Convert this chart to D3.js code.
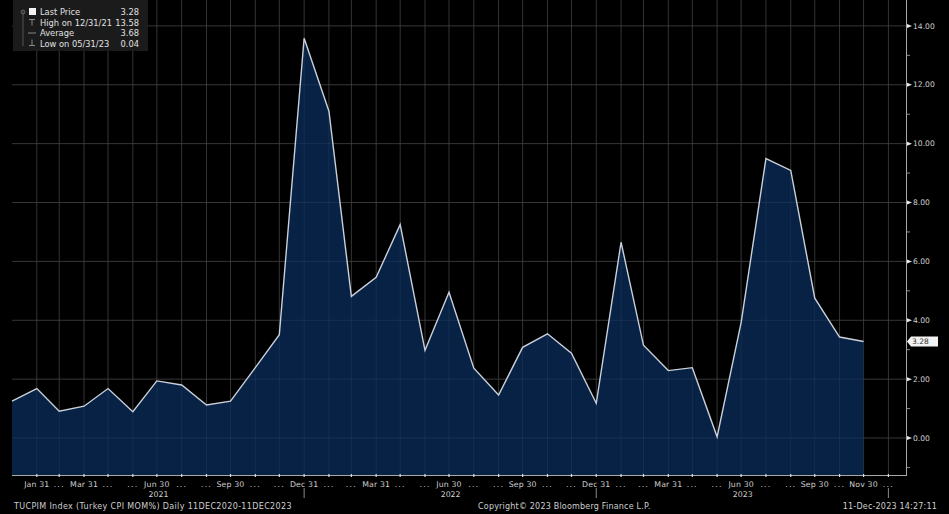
<!DOCTYPE html>
<html>
<head>
<meta charset="utf-8">
<script src="https://cdn.jsdelivr.net/npm/d3@7"></script>
<style>
  html, body { margin: 0; padding: 0; background: #000; }
  svg { display: block; }
  text { font-family: "DejaVu Sans", sans-serif; }
</style>
</head>
<body>
<svg id="chart" width="949" height="514"></svg>
<script>
// ---- data ----
const dates = [
  "2020-12-31",
  "2021-01-31","2021-02-28","2021-03-31","2021-04-30","2021-05-31","2021-06-30",
  "2021-07-31","2021-08-31","2021-09-30","2021-10-31","2021-11-30","2021-12-31",
  "2022-01-31","2022-02-28","2022-03-31","2022-04-30","2022-05-31","2022-06-30",
  "2022-07-31","2022-08-31","2022-09-30","2022-10-31","2022-11-30","2022-12-31",
  "2023-01-31","2023-02-28","2023-03-31","2023-04-30","2023-05-31","2023-06-30",
  "2023-07-31","2023-08-31","2023-09-30","2023-10-31","2023-11-30"
];
const values = [
  1.25,
  1.68, 0.91, 1.08, 1.68, 0.89, 1.94, 1.80, 1.12, 1.25, 2.39, 3.51, 13.58,
  11.10, 4.81, 5.46, 7.25, 2.98, 4.95, 2.37, 1.46, 3.08, 3.54, 2.88, 1.18,
  6.65, 3.15, 2.29, 2.39, 0.04, 3.92, 9.49, 9.09, 4.75, 3.43, 3.28
];
const tickDates = [
  "2021-01-31","2021-02-28","2021-03-31","2021-04-30","2021-05-31","2021-06-30",
  "2021-07-31","2021-08-31","2021-09-30","2021-10-31","2021-11-30","2021-12-31",
  "2022-01-31","2022-02-28","2022-03-31","2022-04-30","2022-05-31","2022-06-30",
  "2022-07-31","2022-08-31","2022-09-30","2022-10-31","2022-11-30","2022-12-31",
  "2023-01-31","2023-02-28","2023-03-31","2023-04-30","2023-05-31","2023-06-30",
  "2023-07-31","2023-08-31","2023-09-30","2023-10-31","2023-11-30","2023-12-31"
];
const tickLabels = [
  "Jan 31","...","Mar 31","...","...","Jun 30","...","...","Sep 30","...","...","Dec 31",
  "...","...","Mar 31","...","...","Jun 30","...","...","Sep 30","...","...","Dec 31",
  "...","...","Mar 31","...","...","Jun 30","...","...","Sep 30","...","Nov 30","..."
];
const years = ["2021","2022","2023"];
const yTicks = [0, 2, 4, 6, 8, 10, 12, 14];
const yMinorTicks = [-1, 1, 3, 5, 7, 9, 11, 13];
const legendLabels = ["Last Price", "High on 12/31/21", "Average", "Low on 05/31/23"];
const legendValues = ["3.28", "13.58", "3.68", "0.04"];
const lastPrice = 3.28;
const footerLeft = "TUCPIM Index (Turkey CPI MOM%)  Daily 11DEC2020-11DEC2023";
const footerMid = "Copyright\u00A9 2023 Bloomberg Finance L.P.";
const footerRight = "11-Dec-2023 14:27:11";

// ---- layout ----
const W = 949, H = 514;
const plotLeft = 12, plotRight = 906, plotTop = 0, plotBottom = 475;
const parse = d3.timeParse("%Y-%m-%d");

const svg = d3.select("#chart");
svg.append("rect").attr("width", W).attr("height", H).attr("fill", "#000");

const x = d3.scaleTime()
  .domain([parse("2020-12-31"), parse("2024-01-22")])
  .range([plotLeft, plotRight]);
const y = d3.scaleLinear()
  .domain([-1.257, 14.88])
  .range([plotBottom, plotTop]);

const data = dates.map((d, i) => ({ date: parse(d), value: values[i] }));

const textColor = "#cfcfcf";
const gridColor = "#2b2b2b";

// gridlines
const g = svg.append("g");
g.selectAll("line.vg").data(tickDates).join("line")
  .attr("x1", d => x(parse(d))).attr("x2", d => x(parse(d)))
  .attr("y1", plotTop).attr("y2", plotBottom)
  .attr("stroke", gridColor).attr("stroke-width", 1);
g.selectAll("line.hg").data(yTicks).join("line")
  .attr("x1", plotLeft).attr("x2", plotRight)
  .attr("y1", d => y(d)).attr("y2", d => y(d))
  .attr("stroke", gridColor).attr("stroke-width", 1);

// area + line
const area = d3.area()
  .x(d => x(d.date))
  .y0(plotBottom)
  .y1(d => y(d.value));
svg.append("path").datum(data)
  .attr("d", area)
  .attr("fill", "#082449")
  .attr("fill-opacity", 0.95);

// gridlines faintly visible over fill
const g2 = svg.append("g");
g2.selectAll("line").data(tickDates).join("line")
  .attr("x1", d => x(parse(d))).attr("x2", d => x(parse(d)))
  .attr("y1", plotTop).attr("y2", plotBottom)
  .attr("stroke", "#ffffff").attr("stroke-opacity", 0.05);
g2.selectAll("line.h").data(yTicks).join("line")
  .attr("x1", plotLeft).attr("x2", plotRight)
  .attr("y1", d => y(d)).attr("y2", d => y(d))
  .attr("stroke", "#ffffff").attr("stroke-opacity", 0.06);

const line = d3.line().x(d => x(d.date)).y(d => y(d.value));
svg.append("path").datum(data)
  .attr("d", line)
  .attr("fill", "none")
  .attr("stroke", "#c9d0da")
  .attr("stroke-width", 1.4)
  .attr("stroke-linejoin", "miter");

// axes frame
svg.append("line")
  .attr("x1", plotLeft).attr("x2", plotRight)
  .attr("y1", plotBottom + 0.5).attr("y2", plotBottom + 0.5)
  .attr("stroke", "#a8a8a8").attr("stroke-width", 1);
svg.append("line")
  .attr("x1", plotRight + 0.5).attr("x2", plotRight + 0.5)
  .attr("y1", plotTop).attr("y2", plotBottom + 1)
  .attr("stroke", "#a8a8a8").attr("stroke-width", 1);

// x axis ticks and labels
const xa = svg.append("g");
xa.selectAll("line").data(tickDates).join("line")
  .attr("x1", d => x(parse(d))).attr("x2", d => x(parse(d)))
  .attr("y1", plotBottom - 1).attr("y2", plotBottom + 2)
  .attr("stroke", "#e0e0e0").attr("stroke-width", 1.2);
xa.selectAll("text").data(tickDates).join("text")
  .attr("x", d => x(parse(d)))
  .attr("y", 486.5)
  .attr("text-anchor", "middle")
  .attr("font-size", 7.8)
  .attr("letter-spacing", (d, i) => tickLabels[i] === "..." ? 1.2 : 0.15)
  .attr("fill", textColor)
  .text((d, i) => tickLabels[i]);

// year separators and labels
const domainStart = x.domain()[0], domainEnd = x.domain()[1];
years.forEach(yr => {
  const ys = new Date(+yr, 0, 1), ye = new Date(+yr, 11, 31);
  const a = Math.max(+ys, +domainStart), b = Math.min(+ye, +domainEnd);
  const cx = (x(new Date(a)) + x(new Date(b))) / 2;
  svg.append("text")
    .attr("x", cx).attr("y", 496.5)
    .attr("text-anchor", "middle")
    .attr("font-size", 7.8)
    .attr("fill", textColor)
    .text(yr);
  if (+ye < +domainEnd) {
    const sx = x(ye);
    svg.append("line")
      .attr("x1", sx).attr("x2", sx)
      .attr("y1", 488).attr("y2", 498)
      .attr("stroke", "#8a8a8a").attr("stroke-width", 1);
  }
});

// y axis ticks and labels
const ya = svg.append("g");
ya.selectAll("path").data(yTicks).join("path")
  .attr("d", d => `M${plotRight + 1},${y(d) - 2}L${plotRight + 6},${y(d)}L${plotRight + 1},${y(d) + 2}Z`)
  .attr("fill", "#e8e8e8");
ya.selectAll("line").data(yMinorTicks).join("line")
  .attr("x1", plotRight + 1).attr("x2", plotRight + 4)
  .attr("y1", d => y(d)).attr("y2", d => y(d))
  .attr("stroke", "#8a8a8a");
ya.selectAll("text").data(yTicks).join("text")
  .attr("x", plotRight + 7)
  .attr("y", d => y(d) + 2.7)
  .attr("font-size", 7.6)
  .attr("fill", textColor)
  .text(d => d3.format(".2f")(d));

// last price tag
const ly = y(lastPrice);
svg.append("path")
  .attr("d", `M${plotRight + 1},${ly}L${plotRight + 5},${ly - 5}L${plotRight + 32},${ly - 5}L${plotRight + 32},${ly + 5}L${plotRight + 5},${ly + 5}Z`)
  .attr("fill", "#f2f2f2");
svg.append("text")
  .attr("x", plotRight + 6).attr("y", ly + 2.7)
  .attr("font-size", 7.5)
  .attr("fill", "#333")
  .text(d3.format(".2f")(lastPrice));

// legend
const lg = svg.append("g");
lg.append("rect")
  .attr("x", 13).attr("y", 0).attr("width", 135).attr("height", 51)
  .attr("fill", "#1b1b1b");
lg.append("line")
  .attr("x1", 23).attr("x2", 23).attr("y1", 11).attr("y2", 46)
  .attr("stroke", "#555").attr("stroke-width", 1);
lg.append("circle").attr("cx", 23).attr("cy", 12).attr("r", 2)
  .attr("fill", "none").attr("stroke", "#666");
const rowY = [15, 25.5, 36, 46.5];
// icons
lg.append("rect").attr("x", 29).attr("y", 8).attr("width", 7).attr("height", 7).attr("fill", "#f4f4f4");
lg.append("path").attr("d", `M29,${rowY[1] - 6}L35,${rowY[1] - 6}M32,${rowY[1] - 6}L32,${rowY[1]}`)
  .attr("stroke", "#888").attr("fill", "none");
lg.append("path").attr("d", `M28,${rowY[2] - 3}L36,${rowY[2] - 3}`)
  .attr("stroke", "#888").attr("fill", "none");
lg.append("path").attr("d", `M32,${rowY[3] - 7}L32,${rowY[3] - 1}M29,${rowY[3] - 1}L35,${rowY[3] - 1}`)
  .attr("stroke", "#888").attr("fill", "none");
lg.selectAll("text.l").data(legendLabels).join("text")
  .attr("x", 40).attr("y", (d, i) => rowY[i])
  .attr("font-size", 8.3).attr("fill", "#e0e0e0")
  .text(d => d);
lg.selectAll("text.v").data(legendValues).join("text")
  .attr("x", 139).attr("y", (d, i) => rowY[i])
  .attr("text-anchor", "end")
  .attr("font-size", 8.3).attr("fill", "#e0e0e0")
  .text(d => d);

// footer
svg.append("text").attr("x", 14).attr("y", 508.5)
  .attr("font-size", 8).attr("letter-spacing", 0.35).attr("fill", textColor).text(footerLeft);
svg.append("text").attr("x", 478).attr("y", 508.5)
  .attr("font-size", 8).attr("letter-spacing", 0.2).attr("fill", textColor).text(footerMid);
svg.append("text").attr("x", 937).attr("y", 508.5)
  .attr("text-anchor", "end")
  .attr("font-size", 8).attr("letter-spacing", 0.2).attr("fill", textColor).text(footerRight);
</script>
</body>
</html>
